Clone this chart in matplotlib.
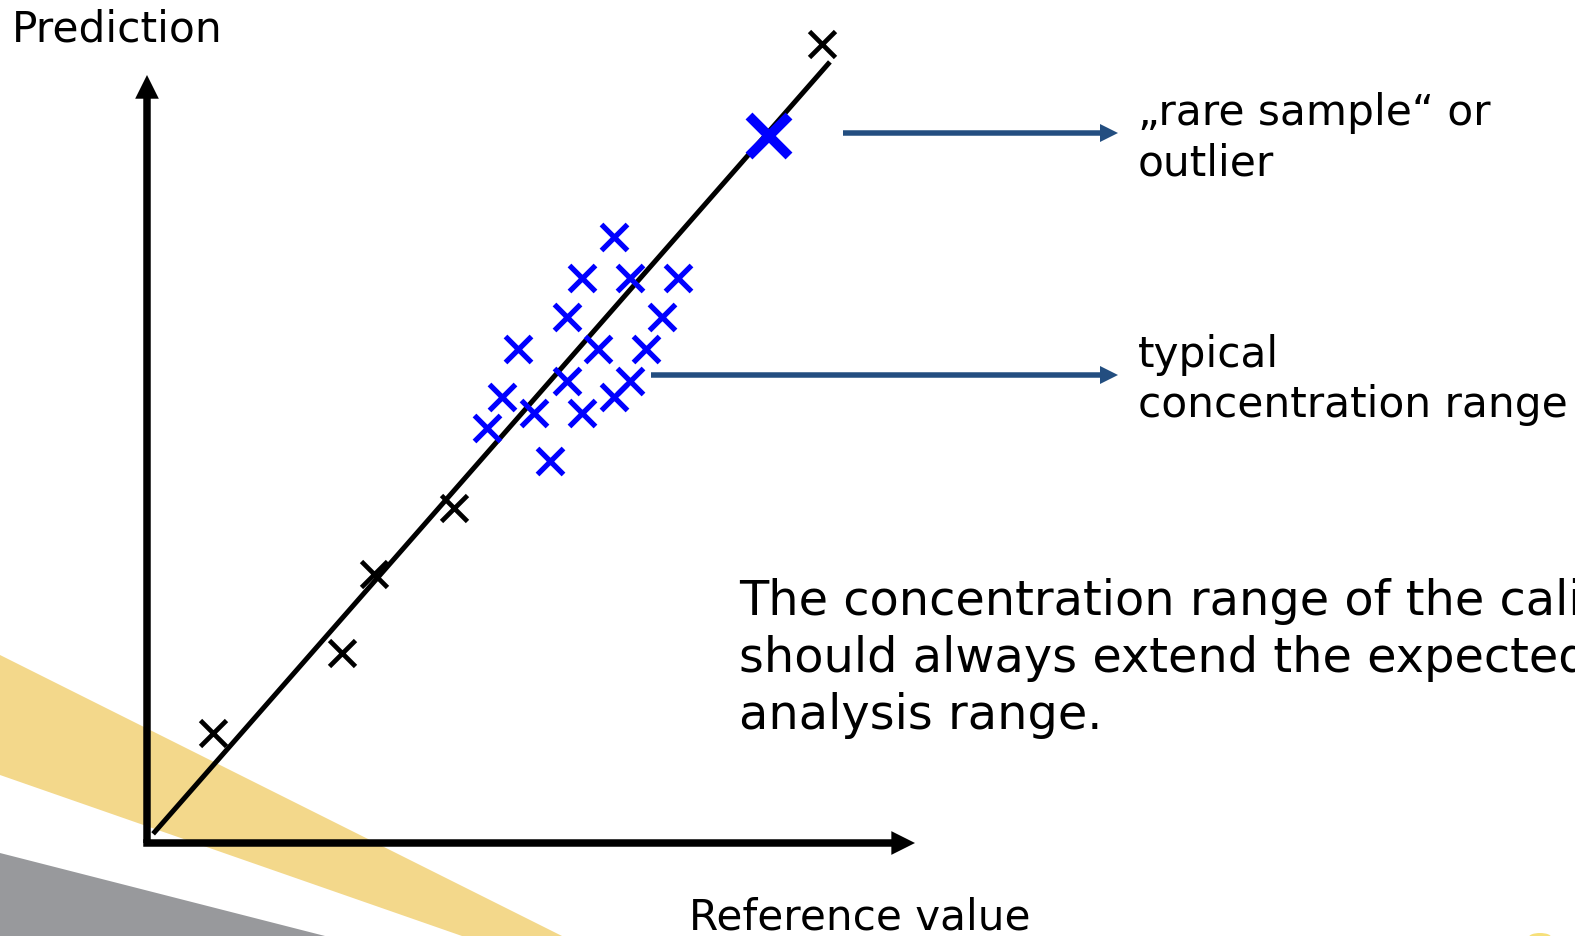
import matplotlib
matplotlib.use("Agg")
import matplotlib.pyplot as plt
from matplotlib.patches import Polygon, Ellipse, FancyArrow

W, H = 1575, 936

# calibration samples (reference value, prediction)
calib_x = [0.86, 2.56, 2.97, 4.02, 8.85]
calib_y = [1.44, 2.48, 3.52, 4.38, 10.44]

# typical samples
typ_x = [6.12, 5.70, 6.33, 6.96, 5.50, 6.75, 4.86, 5.91, 6.54,
         5.50, 6.33, 4.65, 6.12, 5.07, 5.70, 4.46, 5.28]
typ_y = [7.92, 7.39, 7.39, 7.39, 6.88, 6.88, 6.46, 6.46, 6.46,
         6.04, 6.04, 5.83, 5.83, 5.62, 5.62, 5.42, 4.99]

# rare sample / outlier
rare_x = [8.15]
rare_y = [9.24]

# calibration line
fit_x = [0.08, 8.95]
fit_y = [0.12, 10.21]

fig = plt.figure(figsize=(W / 100, H / 100), dpi=100)
fig.patch.set_facecolor("white")

# overlay in pixel units for the slide decoration, pointers and text
ov = fig.add_axes([0, 0, 1, 1])
ov.set_xlim(0, W)
ov.set_ylim(H, 0)
ov.axis("off")

ov.add_patch(Polygon([(0, 655), (0, 775), (462, 936), (562, 936)],
                     closed=True, facecolor="#f3d88b", edgecolor="none", zorder=0))
ov.add_patch(Polygon([(0, 853), (0, 936), (325, 936)],
                     closed=True, facecolor="#98999c", edgecolor="none", zorder=0))
ov.add_patch(Ellipse((1540, 937), 22, 8, facecolor="#f6e07a",
                     edgecolor="none", zorder=0))

blue = "#234e80"
for xs, xe, yy in [(843, 1118, 133), (651, 1118, 375)]:
    ov.add_patch(FancyArrow(xs, yy, xe - xs, 0, width=5.5, head_width=18,
                            head_length=18, length_includes_head=True,
                            color=blue, lw=0, zorder=2))

labels = [
    ("Prediction", 12, 42, 30.5),
    ("Reference value", 689, 930, 30.3),
    ("\u201erare sample\u201c or", 1138, 125, 30.4),
    ("outlier", 1138, 175, 30.4),
    ("typical", 1138, 367, 30.4),
    ("concentration range", 1138, 417, 30.4),
    ("The concentration range of the calibration", 739, 615, 34.5),
    ("should always extend the expected", 739, 672, 34.5),
    ("analysis range.", 739, 729, 34.5),
]
for txt, px, py, size in labels:
    ov.text(px, py, txt, fontsize=size, family="DejaVu Sans", color="black",
            ha="left", va="baseline", clip_on=False)

# chart axes: 76.3 px per unit, origin at pixel (147, 843)
ax = fig.add_axes([147 / W, 1 - 843 / H, (915 - 147) / W, (843 - 75) / H])
ax.set_xlim(0, 768 / 76.3)
ax.set_ylim(0, 768 / 76.5)
ax.patch.set_visible(False)
for s in ax.spines.values():
    s.set_visible(False)
ax.set_xticks([])
ax.set_yticks([])

xmax, ymax = ax.get_xlim()[1], ax.get_ylim()[1]
hw = 0.049
ax.add_patch(FancyArrow(-hw, 0, xmax + hw, 0, width=2 * hw, head_width=0.31,
                        head_length=0.31, length_includes_head=True,
                        color="black", lw=0, clip_on=False))
ax.add_patch(FancyArrow(0, 0, 0, ymax, width=2 * hw, head_width=0.31,
                        head_length=0.31, length_includes_head=True,
                        color="black", lw=0, clip_on=False))

ax.plot(fit_x, fit_y, color="black", lw=3.6, solid_capstyle="butt",
        clip_on=False, zorder=2)
ax.plot(calib_x, calib_y, "x", color="black", ms=19, mew=3.4,
        clip_on=False, zorder=3)
ax.plot(typ_x, typ_y, "x", color="#0000ff", ms=19, mew=3.8,
        clip_on=False, zorder=3)
ax.plot(rare_x, rare_y, "x", color="#0000ff", ms=29, mew=7,
        clip_on=False, zorder=3)

fig.savefig("out.png", dpi=100)
